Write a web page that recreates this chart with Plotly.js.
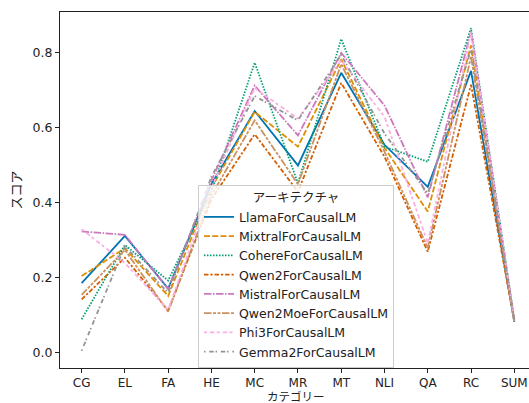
<!DOCTYPE html>
<html>
<head>
<meta charset="utf-8">
<script src="https://cdn.plot.ly/plotly-3.0.1.min.js"></script>
<style>
html, body { margin: 0; padding: 0; overflow: hidden; background: #fff; }
#chart { width: 529px; height: 403px; }
</style>
</head>
<body>
<div id="chart"></div>
<script>
const categories = ["CG", "EL", "FA", "HE", "MC", "MR", "MT", "NLI", "QA", "RC", "SUM"];

const seriesNames = ["LlamaForCausalLM", "MixtralForCausalLM", "CohereForCausalLM", "Qwen2ForCausalLM",
  "MistralForCausalLM", "Qwen2MoeForCausalLM", "Phi3ForCausalLM", "Gemma2ForCausalLM"];

const llama    = [0.186, 0.312, 0.172, 0.45, 0.645, 0.50, 0.747, 0.555, 0.443, 0.752, 0.083];
const mixtral  = [0.205, 0.279, 0.152, 0.44, 0.643, 0.55, 0.783, 0.547, 0.377, 0.820, 0.085];
const cohere   = [0.090, 0.288, 0.193, 0.43, 0.774, 0.452, 0.837, 0.550, 0.510, 0.866, 0.090];
const qwen2    = [0.143, 0.254, 0.113, 0.41, 0.583, 0.43, 0.720, 0.523, 0.270, 0.715, 0.085];
const mistral  = [0.324, 0.315, 0.170, 0.46, 0.713, 0.58, 0.800, 0.660, 0.415, 0.857, 0.085];
const qwen2moe = [0.155, 0.275, 0.110, 0.42, 0.620, 0.45, 0.770, 0.537, 0.280, 0.790, 0.085];
const phi3     = [0.330, 0.240, 0.115, 0.44, 0.706, 0.625, 0.780, 0.630, 0.293, 0.855, 0.087];
const gemma2   = [0.006, 0.285, 0.160, 0.47, 0.685, 0.62, 0.795, 0.585, 0.425, 0.810, 0.085];

const seriesValues = [llama, mixtral, cohere, qwen2, mistral, qwen2moe, phi3, gemma2];
const colors = ["#0173b2", "#de8f05", "#029e73", "#d55e00", "#cc78bc", "#ca9161", "#fbafe4", "#949494"];
const dashes = ["solid", "6px,2.25px", "1.5px,1.5px", "4.5px,1.9px,2.25px,1.9px",
  "7.5px,1.5px,1.5px,1.5px", "7.5px,1.5px,3px,1.5px,3px,1.5px", "3px,3px,4.5px,2.25px",
  "1.5px,3.75px,4.5px,1.8px"];

const FONT = '"DejaVu Sans", "Noto Sans CJK JP", sans-serif';
const JFONT = '"Noto Sans CJK JP", "DejaVu Sans", sans-serif';

const traces = seriesNames.map((name, i) => ({
  type: "scatter",
  mode: "lines",
  name: name,
  x: categories.map((c, j) => j),
  y: seriesValues[i],
  line: { color: colors[i], width: 1.8, dash: dashes[i] }
}));

const layout = {
  width: 529,
  height: 403,
  margin: { l: 60, r: 0, t: 12, b: 35 },
  paper_bgcolor: "#fff",
  plot_bgcolor: "#fff",
  font: { family: FONT, size: 12.5, color: "#222" },
  showlegend: true,
  xaxis: {
    range: [-0.5, 10.34],
    tickmode: "array",
    tickvals: categories.map((c, j) => j),
    ticktext: categories,
    showgrid: false,
    zeroline: false,
    showline: true,
    linecolor: "#222",
    linewidth: 1,
    mirror: true,
    ticks: "outside",
    ticklen: 3.5,
    tickcolor: "#222",
    tickfont: { family: FONT, size: 12, color: "#222" }
  },
  yaxis: {
    range: [-0.04, 0.909],
    tickvals: [0.0, 0.2, 0.4, 0.6, 0.8],
    tickformat: ".1f",
    showgrid: false,
    zeroline: false,
    showline: true,
    linecolor: "#222",
    linewidth: 1,
    mirror: false,
    ticks: "outside",
    ticklen: 4,
    tickcolor: "#222",
    tickfont: { family: FONT, size: 12.5, color: "#222" },
    title: { text: "スコア", font: { family: JFONT, size: 13, color: "#222" }, standoff: 8 }
  },
  annotations: [{
    text: "カテゴリー",
    xref: "paper", yref: "paper",
    x: (296 - 60) / 469, y: (368 - 396) / 356,
    xanchor: "center", yanchor: "middle",
    showarrow: false,
    font: { family: JFONT, size: 11.5, color: "#222" }
  }],
  legend: {
    x: (198 - 60) / 469,
    y: (368 - 185) / 356,
    xanchor: "left",
    yanchor: "top",
    bgcolor: "rgba(255,255,255,0.8)",
    bordercolor: "#cccccc",
    borderwidth: 1,
    itemwidth: 30,
    tracegroupgap: 0,
    font: { family: FONT, size: 12.5, color: "#222" },
    title: { text: "アーキテクチャ", side: "top center", font: { family: JFONT, size: 12.5, color: "#222" } }
  }
};

Plotly.newPlot("chart", traces, layout, { staticPlot: true, displayModeBar: false });
</script>
</body>
</html>
